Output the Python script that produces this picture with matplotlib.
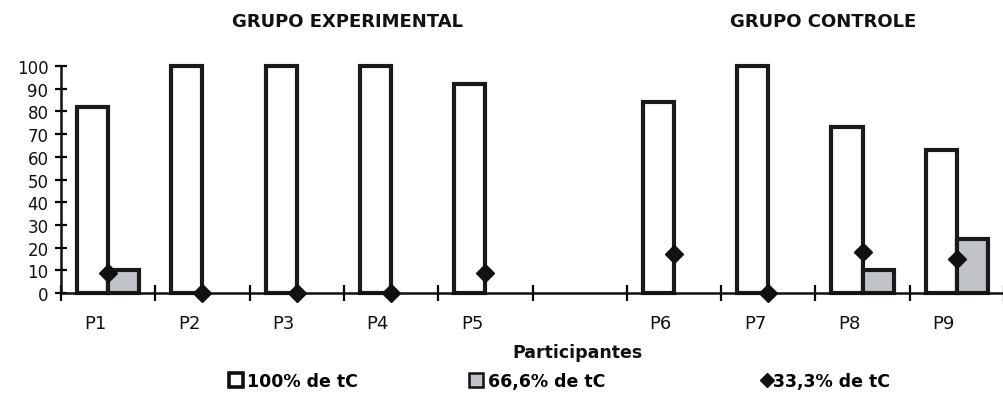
import numpy as np
import matplotlib
matplotlib.use("Agg")
import matplotlib.pyplot as plt
from matplotlib.lines import Line2D

# ---- data ----
categories = ['P1', 'P2', 'P3', 'P4', 'P5', '', 'P6', 'P7', 'P8', 'P9']
tc100 = [82, 100, 100, 100, 92, np.nan, 84, 100, 73, 63]
tc66 = [10, 0, 0, 0, 0, np.nan, 0, 0, 10, 24]
tc33 = [9, 0, 0, 0, 9, np.nan, 17, 0, 18, 15]
group_titles = ['GRUPO EXPERIMENTAL', 'GRUPO CONTROLE']
series_names = ['100% de tC', '66,6% de tC', '33,3% de tC']
yticks = list(range(0, 101, 10))

plt.rcParams['font.family'] = ['DejaVu Sans']

W, H = 1004, 402
fig = plt.figure(figsize=(W / 100, H / 100), dpi=100)
ax = fig.add_axes([61 / W, 108 / H, (W - 61) / W, 227 / H])

x = np.arange(len(categories))
bw = 0.33
grey = '#c0c3c8'
v100 = np.array(tc100, dtype=float)
v66 = np.array(tc66, dtype=float)
v66 = np.where(v66 > 0, v66, np.nan)

b1 = ax.bar(x - bw / 2, v100, width=bw, facecolor='white', edgecolor='#1a1a1a',
            linewidth=3.0, joinstyle='miter', zorder=3)
b2 = ax.bar(x + bw / 2, v66, width=bw, facecolor=grey, edgecolor='#1a1a1a',
            linewidth=3.0, joinstyle='miter', zorder=3)
for p in list(b1) + list(b2):
    p.set_clip_on(False)
ax.plot(x, tc33, linestyle='none', marker='D', markersize=9,
        color='#111111', zorder=6, clip_on=False)

ax.set_ylim(0, 100)
ax.set_xlim(-0.5, 9.354)
ax.set_yticks(yticks)
ax.set_yticklabels([str(v) for v in yticks], fontsize=12, color='#111111')
ax.tick_params(axis='y', direction='inout', length=8, width=1.6, pad=5)

ax.set_xticks(x - 0.14)
ax.set_xticklabels(categories, fontsize=13, color='#111111')
ax.tick_params(axis='x', which='major', length=0, pad=15)
ax.set_xticks(np.arange(-0.5, 9.6, 1.0), minor=True)
ax.tick_params(axis='x', which='minor', direction='inout', length=11, width=1.6)

for s in ['top', 'right']:
    ax.spines[s].set_visible(False)
for s in ['left', 'bottom']:
    ax.spines[s].set_linewidth(1.8)
    ax.spines[s].set_color('#111111')
    ax.spines[s].set_zorder(4)

fig.text(347 / W, 1 - 22 / H, group_titles[0], ha='center', va='center',
         fontsize=13, fontweight='bold', color='#111111')
fig.text(823 / W, 1 - 22 / H, group_titles[1], ha='center', va='center',
         fontsize=13, fontweight='bold', color='#111111')
fig.text(577 / W, 1 - 353 / H, 'Participantes', ha='center', va='center',
         fontsize=12.5, fontweight='bold', color='#111111')

handles = [
    Line2D([], [], linestyle='none', marker='s', markersize=10,
           markerfacecolor='white', markeredgecolor='#111111', markeredgewidth=2.6),
    Line2D([], [], linestyle='none', marker='s', markersize=10,
           markerfacecolor=grey, markeredgecolor='#111111', markeredgewidth=1.8),
    Line2D([], [], linestyle='none', marker='D', markersize=7.5,
           color='#111111'),
]
leg_x = [227 / W, 467 / W, 761 / W]
leg_hl = [1.0, 1.0, 0.7]
leg_tp = [0.15, 0.2, 0.0]
for h, name, lx, hl, tp in zip(handles, series_names, leg_x, leg_hl, leg_tp):
    fig.legend([h], [name], loc='center left', bbox_to_anchor=(lx, 1 - 382 / H),
               frameon=False, handlelength=hl, handletextpad=tp, borderpad=0,
               borderaxespad=0, prop={'size': 12.5, 'weight': 'bold'})

fig.savefig('out.png', dpi=100)
